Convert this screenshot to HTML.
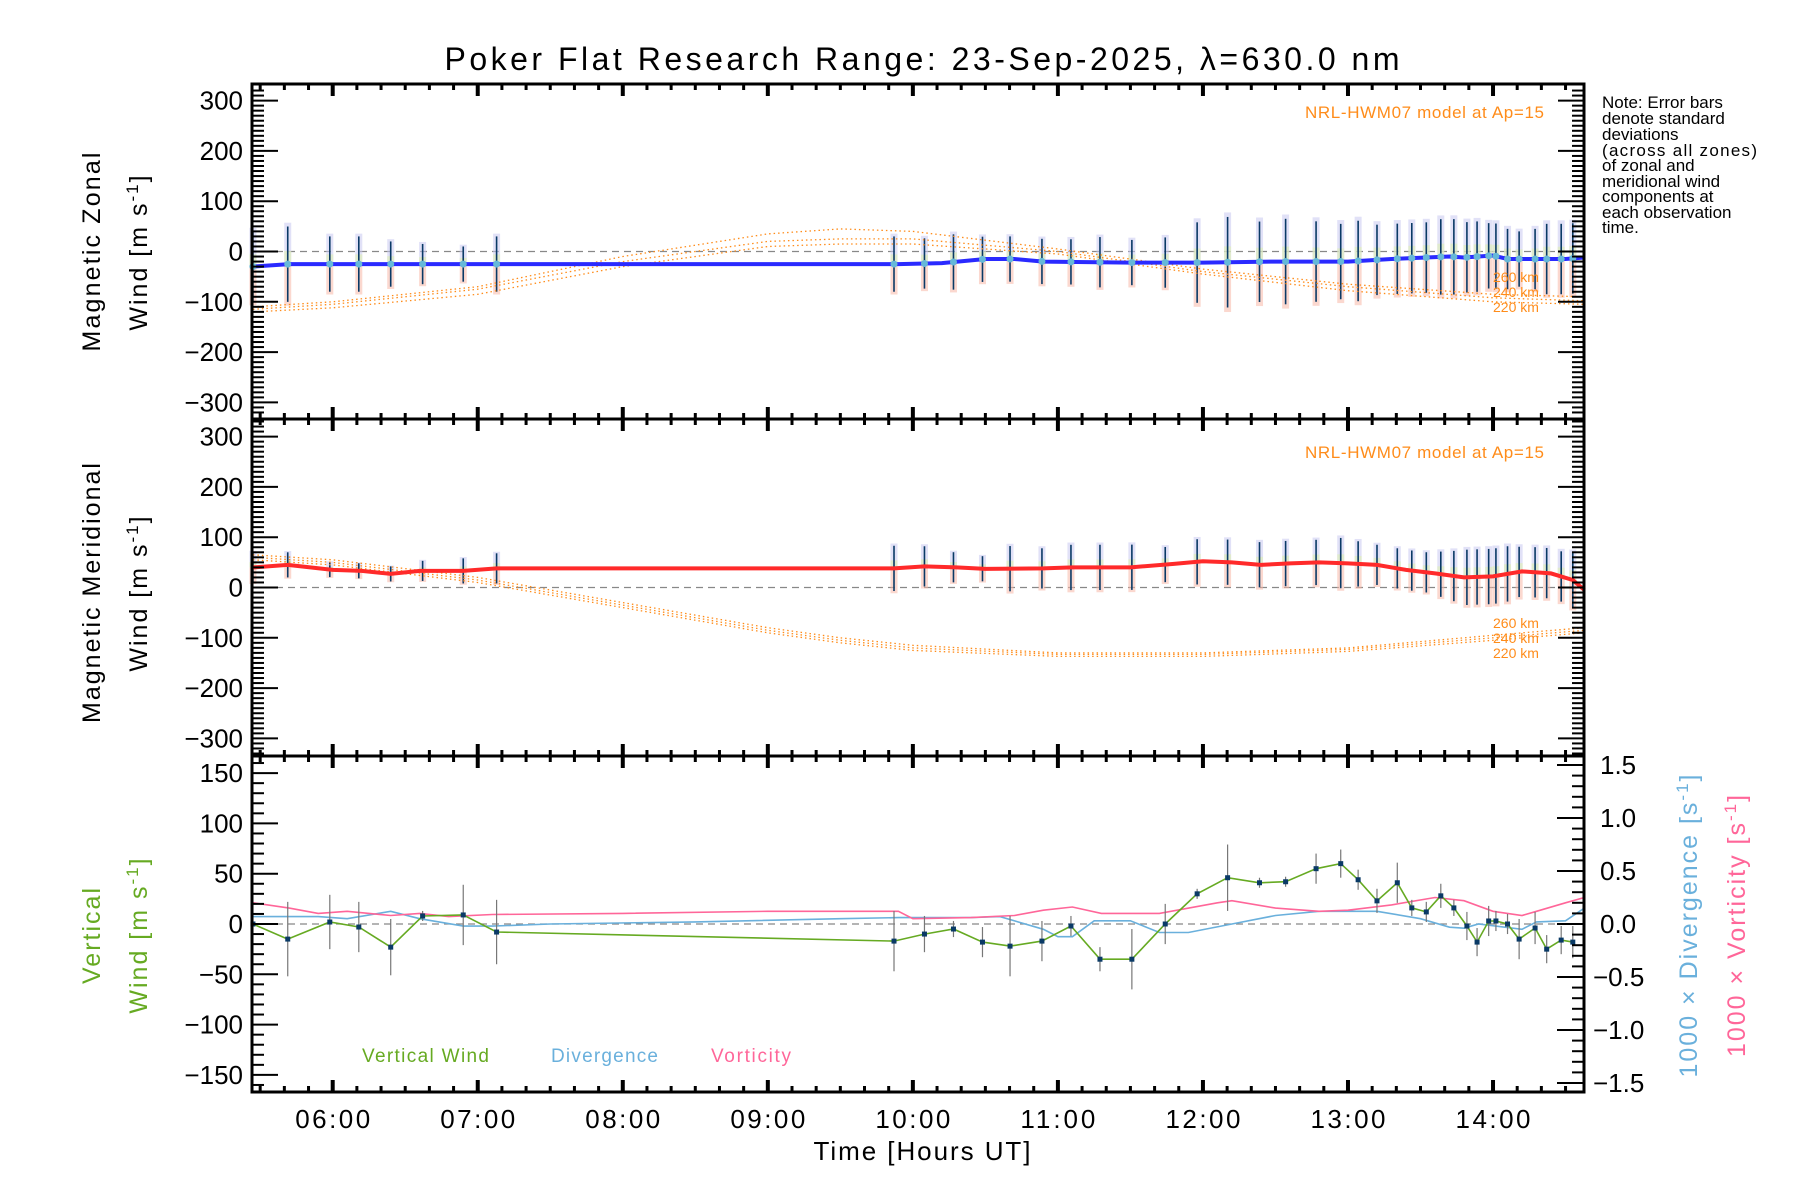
<!DOCTYPE html>
<html><head><meta charset="utf-8"><style>
html,body{margin:0;padding:0;background:#fff}
svg{display:block;font-family:"Liberation Sans",sans-serif}
</style></head><body>
<svg id="chart" width="1800" height="1200" viewBox="0 0 1800 1200" xmlns="http://www.w3.org/2000/svg">
<text x="922" y="70" font-size="32" text-anchor="middle" textLength="955" lengthAdjust="spacing">Poker Flat Research Range: 23-Sep-2025, λ=630.0 nm</text>
<g font-size="17" fill="#000">
<text x="1602" y="108">Note: Error bars</text><text x="1602" y="124">denote standard</text><text x="1602" y="140">deviations</text><text x="1602" y="156" textLength="155" lengthAdjust="spacing">(across all zones)</text><text x="1602" y="171">of zonal and</text><text x="1602" y="187">meridional wind</text><text x="1602" y="202">components at</text><text x="1602" y="218">each observation</text><text x="1602" y="233">time.</text>
</g>
<text transform="translate(100,252) rotate(-90)" font-size="25" text-anchor="middle" textLength="199" lengthAdjust="spacing">Magnetic Zonal</text>
<text transform="translate(147,252) rotate(-90)" font-size="25" text-anchor="middle" letter-spacing="2">Wind [m s<tspan dy="-9" font-size="17">-1</tspan><tspan dy="9">]</tspan></text>
<text transform="translate(100,593) rotate(-90)" font-size="25" text-anchor="middle" textLength="260" lengthAdjust="spacing">Magnetic Meridional</text>
<text transform="translate(147,593) rotate(-90)" font-size="25" text-anchor="middle" letter-spacing="2">Wind [m s<tspan dy="-9" font-size="17">-1</tspan><tspan dy="9">]</tspan></text>
<text transform="translate(100,935) rotate(-90)" font-size="25" text-anchor="middle" fill="#66aa22" letter-spacing="2">Vertical</text>
<text transform="translate(147,935) rotate(-90)" font-size="25" text-anchor="middle" fill="#66aa22" letter-spacing="2">Wind [m s<tspan dy="-9" font-size="17">-1</tspan><tspan dy="9">]</tspan></text>
<text transform="translate(1697,925) rotate(-90)" font-size="25" text-anchor="middle" fill="#6ab0dc" letter-spacing="2">1000 × Divergence [s<tspan dy="-9" font-size="17">-1</tspan><tspan dy="9">]</tspan></text>
<text transform="translate(1745,925) rotate(-90)" font-size="25" text-anchor="middle" fill="#ff6699" letter-spacing="2">1000 × Vorticity [s<tspan dy="-9" font-size="17">-1</tspan><tspan dy="9">]</tspan></text>
<text x="922" y="1160" font-size="26" text-anchor="middle" textLength="217" lengthAdjust="spacing">Time [Hours UT]</text>
<text x="362" y="1062" font-size="19" fill="#66aa22" textLength="127" lengthAdjust="spacing">Vertical Wind</text>
<text x="551" y="1062" font-size="19" fill="#6ab0dc" textLength="107" lengthAdjust="spacing">Divergence</text>
<text x="711" y="1062" font-size="19" fill="#ff6699" textLength="80" lengthAdjust="spacing">Vorticity</text>
<text x="1544" y="118" font-size="17" fill="#ff8c1a" text-anchor="end" textLength="239" lengthAdjust="spacing">NRL-HWM07 model at Ap=15</text>
<text x="1544" y="458" font-size="17" fill="#ff8c1a" text-anchor="end" textLength="239" lengthAdjust="spacing">NRL-HWM07 model at Ap=15</text>
</svg>
<script>
// ---- data ----
var obsTimes=[5.45,5.69,5.98,6.18,6.40,6.62,6.90,7.13,9.87,10.08,10.28,10.48,10.67,10.89,11.09,11.29,11.51,11.74,11.96,12.17,12.39,12.57,12.78,12.95,13.07,13.20,13.34,13.44,13.54,13.64,13.73,13.82,13.89,13.97,14.02,14.10,14.18,14.29,14.37,14.47,14.55];
var zonalErr=[70,75,55,55,45,40,35,55,55,50,55,45,45,45,45,50,45,50,80,90,80,85,80,75,80,70,70,70,70,75,75,70,70,65,65,60,55,60,70,70,70];
var meridErr=[30,25,15,15,15,20,25,30,45,40,30,25,45,40,45,45,45,35,45,45,45,45,45,50,45,40,40,40,40,45,50,55,55,55,55,55,50,50,50,50,55];
var zonalT=[5.45,5.7,9.9,10.2,10.5,10.7,10.9,11.5,12.0,12.5,13.0,13.3,13.7,13.8,14.0,14.1,14.5,14.63];
var zonalV=[-30,-25,-25,-23,-15,-15,-20,-22,-22,-20,-20,-15,-10,-12,-8,-15,-15,-12];
var meridT=[5.45,5.69,6.0,6.2,6.4,6.6,6.9,7.13,9.87,10.08,10.3,10.5,10.9,11.1,11.5,11.8,12.0,12.2,12.4,12.6,12.8,13.0,13.2,13.4,13.6,13.8,14.0,14.2,14.4,14.55,14.63];
var meridV=[40,45,35,33,27,33,33,38,38,42,40,37,38,40,40,47,52,50,45,48,50,48,45,35,28,20,22,32,28,15,-5];
var modelT=[5.45,6,7,8,9,9.5,10,11,12,13,14,14.63];
var zonal260=[-110,-100,-70,-10,35,45,40,5,-35,-65,-85,-90];
var zonal240=[-115,-105,-75,-20,20,25,25,0,-40,-70,-92,-98];
var zonal220=[-120,-112,-85,-30,10,15,15,-5,-45,-78,-100,-105];
var merid260=[65,55,20,-30,-80,-100,-115,-130,-130,-120,-95,-80];
var merid240=[60,50,15,-35,-85,-105,-120,-133,-133,-123,-100,-85];
var merid220=[55,45,10,-40,-90,-110,-125,-137,-137,-127,-105,-90];
var vertV=[0,-15,2,-3,-23,8,9,-8,-17,-10,-5,-18,-22,-17,-2,-35,-35,0,30,46,41,42,55,60,44,23,41,16,12,28,16,-2,-18,3,3,0,-15,-4,-25,-16,-18];
var vertErr=[20,37,27,25,28,5,30,32,30,18,8,15,30,20,10,12,30,20,5,33,5,5,15,14,10,12,20,8,10,12,8,14,14,15,10,10,20,16,14,14,16];
var divT=[5.45,5.9,6.1,6.4,6.6,6.9,7.1,7.5,8.5,9.5,9.9,10.4,10.6,10.9,11.0,11.1,11.25,11.5,11.7,11.9,12.2,12.5,12.8,13.2,13.5,13.7,13.8,13.9,14.2,14.3,14.5,14.63];
var divV=[0.07,0.07,0.05,0.12,0.05,-0.02,-0.02,0.0,0.02,0.05,0.06,0.06,0.07,-0.05,-0.12,-0.12,0.03,0.03,-0.08,-0.08,0.0,0.08,0.12,0.12,0.05,-0.03,-0.04,0.0,-0.05,0.02,0.03,0.15];
var vorT=[5.45,5.7,5.9,6.1,6.4,6.6,6.8,7.1,8.0,9.0,9.9,10.0,10.4,10.7,10.9,11.1,11.3,11.7,12.1,12.2,12.5,12.8,13.0,13.3,13.6,13.8,14.0,14.2,14.3,14.5,14.63];
var vorV=[0.2,0.15,0.1,0.12,0.08,0.1,0.07,0.09,0.1,0.12,0.12,0.05,0.06,0.08,0.13,0.16,0.1,0.1,0.2,0.22,0.15,0.12,0.13,0.18,0.25,0.22,0.12,0.08,0.12,0.2,0.25];
var hourLabels=["06:00","07:00","08:00","09:00","10:00","11:00","12:00","13:00","14:00"];
var windTicks=[300,200,100,0,-100,-200,-300];
var vertTicks=[150,100,50,0,-50,-100,-150];
var rightTicks=["1.5","1.0","0.5","0.0","−0.5","−1.0","−1.5"];

// ---- scales ----
var X0=252,X1=1584,T0=5.4436,PXH=145.04;
function xs(t){return X0+(t-T0)*PXH;}
function y1(v){return 251.5-v*0.503;}
function y2(v){return 587.5-v*0.503;}
function y3(v){return 924-v*1.006;}
function y3r(v){return 924-v*106;}
var svg=document.getElementById('chart');
var NS='http://www.w3.org/2000/svg';
function mk(tag,a,parent){var e=document.createElementNS(NS,tag);for(var k in a)e.setAttribute(k,a[k]);(parent||svg).appendChild(e);return e;}
function poly(ts,vs,yf){return ts.map(function(t,i){return xs(t).toFixed(1)+','+yf(vs[i]).toFixed(1);}).join(' ');}
function fmt(n){return n<0?'−'+(-n):''+n;}

var panels=[{top:84,bot:419,yf:y1},{top:419,bot:756,yf:y2},{top:756,bot:1092,yf:y3}];
panels.forEach(function(p,i){
  var z=mk('line',{x1:X0,x2:X1,y1:p.yf(0),y2:p.yf(0),stroke:'#888','stroke-width':1.3,'stroke-dasharray':'7,5'});
  
  
});

function interp(ts,vs,t){if(t<=ts[0])return vs[0];for(var i=1;i<ts.length;i++){if(t<=ts[i]){var f=(t-ts[i-1])/(ts[i]-ts[i-1]);return vs[i-1]+f*(vs[i]-vs[i-1]);}}return vs[vs.length-1];}
function windBars(yf,errs,lineT,lineV,name){
  var g=mk('g',{});
  
  
  obsTimes.forEach(function(t,i){
    var v=interp(lineT,lineV,t),x=xs(t),e=errs[i];
    var r1=mk('rect',{x:x-3.5,y:yf(v+e*1.1),width:7,height:yf(v)-yf(v+e*1.1),fill:'#c8c8f0',opacity:0.55},g);
    
    var r2=mk('rect',{x:x-3.5,y:yf(v),width:7,height:yf(v-e*1.1)-yf(v),fill:'#f8b8a8',opacity:0.55},g);
    
    var r3=mk('rect',{x:x-3.5,y:yf(v+e*0.35),width:7,height:yf(v)-yf(v+e*0.35),fill:'#e0f0b0',opacity:0.6},g);
    
    var l=mk('line',{x1:x,x2:x,y1:yf(v+e),y2:yf(v-e),stroke:'#0a3a66','stroke-width':1.6},g);
    
  });
}
windBars(y1,zonalErr,zonalT,zonalV,'zonal');
windBars(y2,meridErr,meridT,meridV,'meridional');

[[zonal260,y1,'zonal-model-260km'],[zonal240,y1,'zonal-model-240km'],[zonal220,y1,'zonal-model-220km'],[merid260,y2,'meridional-model-260km'],[merid240,y2,'meridional-model-240km'],[merid220,y2,'meridional-model-220km']].forEach(function(m){
  var pl=mk('polyline',{points:poly(modelT,m[0],m[1]),fill:'none',stroke:'#ff8c1a','stroke-width':1.3,'stroke-dasharray':'1.5,3'});
  
  
});
[['260 km',282],['240 km',297],['220 km',312],['260 km',628],['240 km',643],['220 km',658]].forEach(function(a){
  var t=mk('text',{x:1493,y:a[1],'font-size':14,fill:'#ff8c1a'});t.textContent=a[0];
  
  
});

var zl=mk('polyline',{points:poly(zonalT,zonalV,y1),fill:'none',stroke:'#2a2aff','stroke-width':4});


obsTimes.forEach(function(t){var c=mk('circle',{cx:xs(t),cy:y1(interp(zonalT,zonalV,t)),r:3.5,fill:'#66b8d8'});
  
  });
var ml=mk('polyline',{points:poly(meridT,meridV,y2),fill:'none',stroke:'#ff2a2a','stroke-width':4});



var dl=mk('polyline',{points:poly(divT,divV,y3r),fill:'none',stroke:'#6ab0dc','stroke-width':1.6});


var vl=mk('polyline',{points:poly(vorT,vorV,y3r),fill:'none',stroke:'#ff6699','stroke-width':1.6});


obsTimes.forEach(function(t,i){
  var e=mk('line',{x1:xs(t),x2:xs(t),y1:y3(vertV[i]+vertErr[i]),y2:y3(vertV[i]-vertErr[i]),stroke:'#777','stroke-width':1.2});
  
  
});
var wl=mk('polyline',{points:poly(obsTimes,vertV,y3),fill:'none',stroke:'#66aa22','stroke-width':1.6});


obsTimes.forEach(function(t,i){var r=mk('rect',{x:xs(t)-2.5,y:y3(vertV[i])-2.5,width:5,height:5,fill:'#0a3a66'});
  
  });

panels.forEach(function(p,pi){
  var f=mk('rect',{x:X0,y:p.top,width:X1-X0,height:p.bot-p.top,fill:'none',stroke:'#000','stroke-width':3});
  
  
  for(var m=0;m<=600;m+=10){
    var t=5+m/60; if(t<T0||t>14.64)continue;
    var x=xs(t), major=(m%60===0), L=major?12:6, w=major?4:3;
    var a=mk('line',{x1:x,x2:x,y1:p.bot,y2:p.bot-L,stroke:'#000','stroke-width':w});
    
    var b=mk('line',{x1:x,x2:x,y1:p.top,y2:p.top+L,stroke:'#000','stroke-width':w});
    
  }
  var lim=(pi<2)?330:165, step=10;
  for(var v=-lim-(-lim%step);v<=lim;v+=step){
    var y=p.yf(v); if(y<p.top+2||y>p.bot-2)continue;
    var maj=(pi<2)?(v%100===0):(v%50===0);
    var Lt=maj?26:12;
    var l=mk('line',{x1:X0,x2:X0+Lt,y1:y,y2:y,stroke:'#000','stroke-width':2});
    
    if(pi<2){var r=mk('line',{x1:X1,x2:X1-Lt,y1:y,y2:y,stroke:'#000','stroke-width':2});
      }
  }
  var ticks=(pi<2)?windTicks:vertTicks;
  ticks.forEach(function(v){
    var t=mk('text',{x:243,y:p.yf(v)+9,'font-size':26,'text-anchor':'end'});t.textContent=fmt(v);
    
    
  });
});
for(var k=-15;k<=15;k++){
  var yy=y3r(k/10),maj=(k%5===0),Lr=maj?27:12;
  var rt=mk('line',{x1:X1,x2:X1-Lr,y1:yy,y2:yy,stroke:'#000','stroke-width':2});
  
}
rightTicks.forEach(function(s,i){
  var t=mk('text',{x:s.charAt(0)==='−'?1593:1600,y:y3r(1.5-i*0.5)+9,'font-size':26});t.textContent=s;
  
  
});
hourLabels.forEach(function(s,i){
  var t=mk('text',{x:xs(6+i),y:1128,'font-size':26,'text-anchor':'middle',textLength:75,lengthAdjust:'spacing'});t.textContent=s;
  
  
});
</script>
</body></html>
